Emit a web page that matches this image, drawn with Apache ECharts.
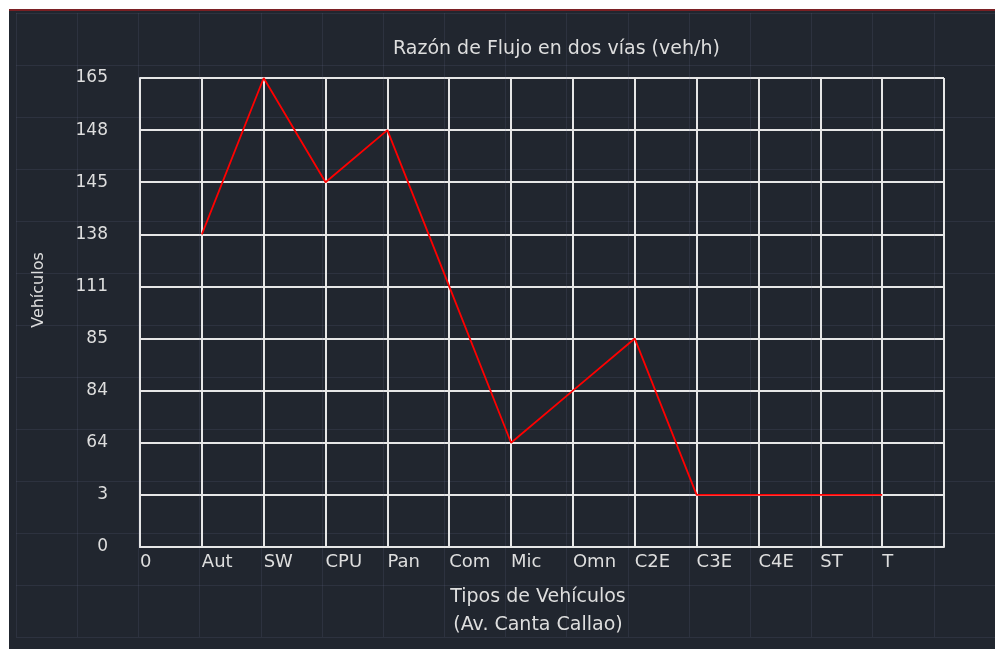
<!DOCTYPE html>
<html>
<head>
<meta charset="utf-8">
<script src="https://cdn.jsdelivr.net/npm/echarts@6/dist/echarts.min.js"></script>
<style>
  html, body { margin: 0; padding: 0; background: #ffffff; }
  #container { width: 995px; height: 649px; }
</style>
</head>
<body>
<div id="container"></div>
<script>
// tipos de vehiculos (eje x), la primera es el origen "0"
var categorias = ['0', 'Aut', 'SW', 'CPU', 'Pan', 'Com', 'Mic', 'Omn', 'C2E', 'C3E', 'C4E', 'ST', 'T', ''];
// etiquetas del eje y, de abajo hacia arriba (espaciado uniforme como en el dibujo)
var nivelesY = ['0', '3', '64', '84', '85', '111', '138', '145', '148', '165'];
// razon de flujo por tipo (veh/h)
var tipos = ['Aut', 'SW', 'CPU', 'Pan', 'Com', 'Mic', 'Omn', 'C2E', 'C3E', 'C4E', 'ST', 'T'];
var flujo = ['138', '165', '145', '148', '111', '64', '84', '85', '3', '3', '3', '3'];

var fondo = '#21262f';
var texto = '#dedede';
var lineaGrid = '#e6e6e6';
var fuente = 'DejaVu Sans, Verdana, sans-serif';

var chart = echarts.init(document.getElementById('container'));
var option = {
  backgroundColor: fondo,
  animation: false,
  textStyle: { fontFamily: fuente },
  title: {
    text: 'Razón de Flujo en dos vías (veh/h)',
    left: 388,
    top: 35,
    textStyle: { color: texto, fontSize: 19, fontWeight: 'normal', fontFamily: fuente }
  },
  graphic: [
    // margen blanco y linea roja del recorte
    { type: 'rect', shape: { x: 0, y: 0, width: 995, height: 10 }, style: { fill: '#ffffff' }, silent: true },
    { type: 'rect', shape: { x: 0, y: 0, width: 9, height: 649 }, style: { fill: '#ffffff' }, silent: true },
    { type: 'rect', shape: { x: 9, y: 9, width: 986, height: 2 }, style: { fill: '#7a2024' }, silent: true },
    {
      type: 'text', x: 39, y: 290, rotation: Math.PI / 2,
      style: { text: 'Vehículos', fill: texto, font: '16px DejaVu Sans, Verdana, sans-serif', align: 'center', verticalAlign: 'middle' }
    }
  ],
  grid: [
    { left: 140, top: 78, width: 804, height: 469, containLabel: false },
    // cuadricula tenue de fondo
    { left: 16, top: 13, width: 989, height: 624, z: 0 }
  ],
  xAxis: [{
    type: 'category',
    gridIndex: 0,
    data: categorias,
    boundaryGap: false,
    axisLine: { show: true, lineStyle: { color: lineaGrid, width: 2 } },
    axisTick: { show: false },
    splitLine: { show: true, lineStyle: { color: lineaGrid, width: 2 } },
    axisLabel: { color: texto, fontSize: 18, align: 'left', margin: 6, interval: 0, fontFamily: fuente },
    name: 'Tipos de Vehículos\n(Av. Canta Callao)',
    nameLocation: 'middle',
    nameGap: 36,
    nameTextStyle: { color: texto, fontSize: 19, lineHeight: 28, fontFamily: fuente, padding: [0, 0, 0, -8] }
  }, {
    type: 'value',
    gridIndex: 1,
    min: 0, max: 16, interval: 1,
    axisLine: { show: false }, axisTick: { show: false }, axisLabel: { show: false },
    splitLine: { show: true, lineStyle: { color: 'rgba(120,130,160,0.14)', width: 1 } }
  }],
  yAxis: [{
    type: 'category',
    gridIndex: 0,
    data: nivelesY,
    boundaryGap: false,
    axisLine: { show: true, lineStyle: { color: lineaGrid, width: 2 } },
    axisTick: { show: false },
    splitLine: { show: true, lineStyle: { color: lineaGrid, width: 2 } },
    axisLabel: { color: texto, fontSize: 17, margin: 32, interval: 0, fontFamily: fuente }
  }, {
    type: 'value',
    gridIndex: 1,
    min: 0, max: 12, interval: 1,
    axisLine: { show: false }, axisTick: { show: false }, axisLabel: { show: false },
    splitLine: { show: true, lineStyle: { color: 'rgba(120,130,160,0.14)', width: 1 } }
  }],
  series: [{
    type: 'line',
    xAxisIndex: 0,
    yAxisIndex: 0,
    data: tipos.map(function (t, i) { return [t, flujo[i]]; }),
    showSymbol: false,
    symbol: 'none',
    z: 5,
    lineStyle: { color: '#ff0000', width: 1.8 }
  }]
};
chart.setOption(option);
</script>
</body>
</html>
